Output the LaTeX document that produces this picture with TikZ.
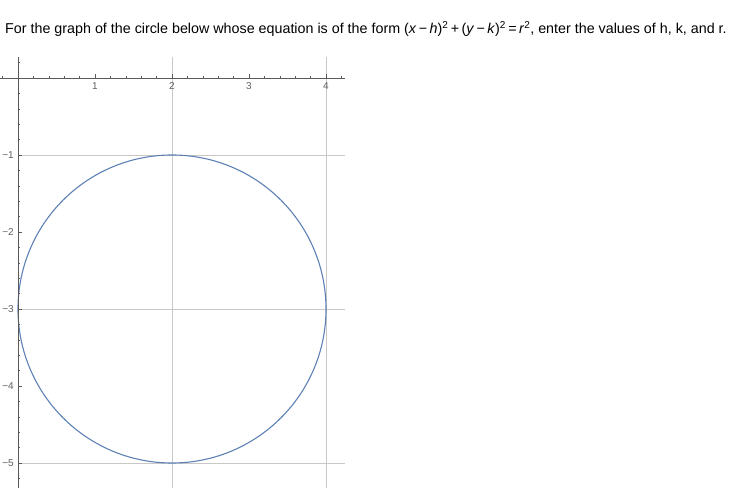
\documentclass[tikz,border=0pt]{standalone}
\usepackage{fontspec}
\setmainfont{Liberation Sans}

\definecolor{plotblue}{RGB}{94,129,181}
\definecolor{axisgray}{RGB}{90,90,90}
\definecolor{gridgray}{RGB}{200,200,200}
\definecolor{ticktext}{RGB}{95,95,95}

\tikzset{
  ticklabel/.style={inner sep=0pt,text=ticktext,font=\fontsize{10}{12}\selectfont},
  circlecurve/.style={plotblue,line width=1.1pt}
}

\begin{document}
\begin{tikzpicture}[x=1pt,y=1pt]
        \useasboundingbox (0,0) rectangle (745,488);
        \node[anchor=base west,inner sep=0pt,font=\fontsize{14.3}{16}\selectfont] (question) at (5,454)
        {For the graph of the circle below whose equation is of the form (\textit{x}\,−\,\textit{h})\textsuperscript{2}\,+\,(\textit{y}\,−\,\textit{k})\textsuperscript{2}\,=\,\textit{r}\textsuperscript{2}, enter the values of h, k, and r.}; % question text
        \begin{scope}[shift={(18,410)},x=77pt,y=77pt]
        \foreach \x in {2,4}
          \draw[gridgray] (\x,0.273) -- (\x,-5.33); % vertical grid lines
        \foreach \y in {-1,-3,-5}
          \draw[gridgray] (0,\y) -- (4.25,\y); % horizontal grid lines
        \draw[circlecurve] (2,-3) circle[radius=2]; % the circle
        \draw[axisgray] (-0.234,0) -- (4.25,0); % x axis
        \draw[axisgray] (0,0.273) -- (0,-5.33); % y axis
        \foreach \x in {-0.2,0.2,0.4,...,4.21}
          \draw[axisgray] (\x,0) -- ++(0pt,2.3pt); % minor ticks on x
        \foreach \x in {1,...,4}
          \draw[axisgray] (\x,0) -- ++(0pt,4pt) (\x,0) node[ticklabel,below,yshift=-4.5pt] (xlab\x) {\x}; % major ticks on x
        \foreach \y in {0.2,-0.2,-0.4,...,-5.21}
          \draw[axisgray] (0,\y) -- ++(2.3pt,0pt); % minor ticks on y
        \foreach \t in {1,...,5}
          \draw[axisgray] (0,-\t) -- ++(4pt,0pt) (0,-\t) node[ticklabel,left,xshift=-4pt] (ylab\t) {−\t}; % major ticks on y
        \end{scope}
\end{tikzpicture}
\end{document}
